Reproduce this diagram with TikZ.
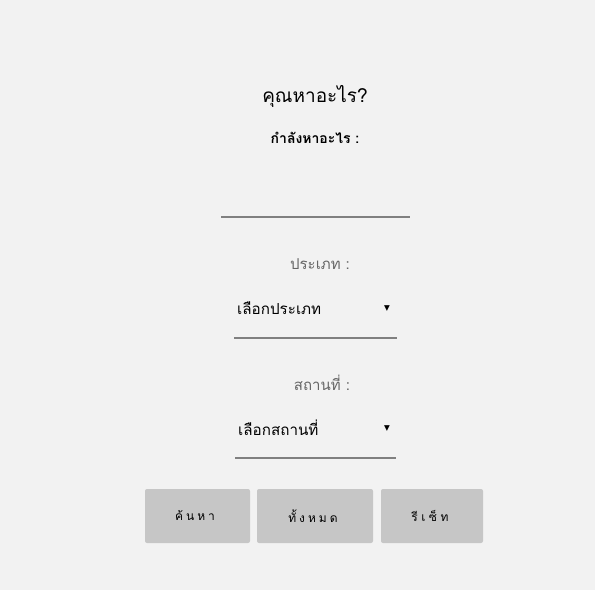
\documentclass[tikz,border=0pt]{standalone}
\usepackage{fontspec}
\newfontfamily\thaifont[Script=Thai]{Loma}
\newfontfamily\symfont{DejaVu Sans}
\usetikzlibrary{positioning}

\definecolor{pagebg}{HTML}{F2F2F2}
\definecolor{btnfill}{HTML}{C6C6C6}
\definecolor{linegray}{HTML}{808080}
\definecolor{labelgray}{HTML}{666666}

\begin{document}
\begin{tikzpicture}[x=1pt, y=-1pt,
	every node/.style={inner sep=0pt, font=\thaifont},
	label/.style={text=labelgray, font=\thaifont\fontsize{15}{17}\selectfont},
	choice/.style={anchor=west, font=\thaifont\fontsize{15.2}{17}\selectfont},
	arrowmark/.style={font=\symfont\fontsize{7.5}{8}\selectfont},
	underline/.style={linegray, line width=2pt},
	button/.style={fill=btnfill, rounded corners=2pt},
	btntext/.style={font=\thaifont\fontsize{12}{14}\selectfont}]
	
	\fill[pagebg] (0,0) rectangle (595,590);
	\useasboundingbox (0,0) rectangle (595,590);
	
	\node (title) at (315,96) {\fontsize{19}{21}\selectfont คุณหาอะไร?};
	\node (query) at (315,138) {\bfseries\fontsize{14}{16}\selectfont กำลังหาอะไร :};
	\draw[underline] (221,217) -- (410,217);
	
	\node[label] (typelabel) at (320,264) {ประเภท :};
	\node[choice] (typechoice) at (237,308) {เลือกประเภท};
	\node[arrowmark] (typearrow) at (387,309) {▼};
	\draw[underline] (234,338) -- (397,338);
	
	\node[label] (placelabel) at (322,383) {สถานที่ :};
	\node[choice] (placechoice) at (238,428) {เลือกสถานที่};
	\node[arrowmark] (placearrow) at (387,429) {▼};
	\draw[underline] (235,458) -- (396,458);
	
	\fill[button] (145,489) rectangle (250,543);
	\fill[button] (257,489) rectangle (373,543);
	\fill[button] (381,489) rectangle (483,543);
	\node[btntext] (search) at (195,516) {ค้\hspace{3pt}น\hspace{3pt}ห\hspace{3pt}า};
	\node[btntext] (all) at (313,516) {ทั้\hspace{3pt}ง\hspace{3pt}ห\hspace{3pt}ม\hspace{3pt}ด};
	\node[btntext] (reset) at (430,516) {รี\hspace{3.5pt}เ\hspace{3.5pt}ซ็\hspace{3.5pt}ท};
	
\end{tikzpicture}
\end{document}
